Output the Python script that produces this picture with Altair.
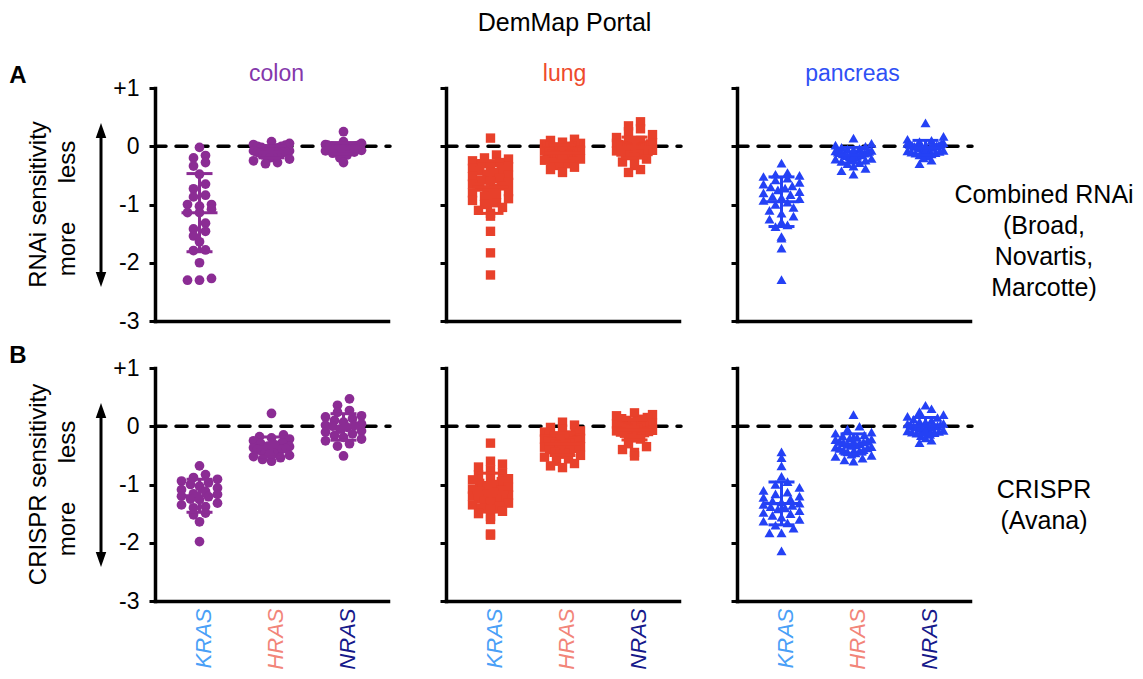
import math
import altair as alt
import pandas as pd

# ---------------- data ----------------
GENES = ["KRAS", "HRAS", "NRAS"]
TISSUES = ["colon", "lung", "pancreas"]
ROW_LETTERS = ["A", "B"]
ROW_YTITLES = ["RNAi sensitivity", "CRISPR sensitivity"]
ROW_LABELS = ["Combined RNAi\n(Broad,\nNovartis,\nMarcotte)", "CRISPR\n(Avana)"]
TICK_VALUES = [-3, -2, -1, 0, 1]

RNAI_COLON_KRAS = [-0.02, -0.16, -0.20, -0.28, -0.34, -0.48, -0.65, -0.73, -0.84, -0.87, -1.00, -1.00,
                   -1.03, -1.08, -1.14, -1.14, -1.32, -1.42, -1.46, -1.54, -1.64, -1.78, -1.79, -2.00,
                   -2.27, -2.30, -2.30]
RNAI_COLON_HRAS = [0.08, 0.05, 0.03, 0.02, 0.0, 0.0, -0.02, -0.03, -0.05, -0.05, -0.06, -0.08, -0.08,
                   -0.10, -0.10, -0.11, -0.12, -0.13, -0.15, -0.15, -0.17, -0.18, -0.20, -0.22, -0.25,
                   -0.28, -0.30]
RNAI_COLON_NRAS = [0.25, 0.08, 0.05, 0.03, 0.02, 0.02, 0.01, 0.0, 0.0, 0.0, -0.01, -0.01, -0.02, -0.02,
                   -0.03, -0.03, -0.04, -0.05, -0.05, -0.06, -0.07, -0.08, -0.10, -0.12, -0.15, -0.20,
                   -0.28]

RNAI_LUNG_KRAS = [0.14, -0.15, -0.20, -0.22, -0.25, -0.28, -0.30, -0.33, -0.35, -0.38, -0.40, -0.42,
                  -0.45, -0.48, -0.50, -0.52, -0.55, -0.58, -0.60, -0.62, -0.65, -0.68, -0.70, -0.72,
                  -0.75, -0.78, -0.80, -0.83, -0.86, -0.90, -0.93, -0.97, -1.00, -1.05, -1.10, -1.15,
                  -1.20, -1.46, -1.83, -2.21]
RNAI_LUNG_HRAS = [0.12, 0.10, 0.07, 0.05, 0.04, 0.03, 0.02, 0.01, 0.0, 0.0, -0.01, -0.02, -0.03, -0.04,
                  -0.05, -0.06, -0.07, -0.08, -0.09, -0.10, -0.10, -0.11, -0.12, -0.13, -0.14, -0.15,
                  -0.16, -0.17, -0.18, -0.19, -0.20, -0.22, -0.24, -0.26, -0.28, -0.30, -0.33, -0.36,
                  -0.40, -0.45]
RNAI_LUNG_NRAS = [0.42, 0.35, 0.30, 0.25, 0.20, 0.15, 0.10, 0.08, 0.06, 0.05, 0.04, 0.03, 0.02, 0.02,
                  0.01, 0.0, 0.0, 0.0, -0.01, -0.01, -0.02, -0.03, -0.04, -0.05, -0.05, -0.06, -0.07,
                  -0.08, -0.09, -0.10, -0.11, -0.12, -0.14, -0.16, -0.18, -0.22, -0.27, -0.33, -0.40,
                  -0.45]

RNAI_PANC_KRAS = [-0.29, -0.45, -0.48, -0.50, -0.52, -0.55, -0.58, -0.62, -0.65, -0.68, -0.70, -0.72,
                  -0.75, -0.78, -0.80, -0.83, -0.86, -0.88, -0.90, -0.93, -0.96, -1.00, -1.05, -1.10,
                  -1.15, -1.20, -1.25, -1.30, -1.35, -1.38, -1.55, -1.58, -1.75, -2.29]
RNAI_PANC_HRAS = [0.14, 0.05, 0.02, 0.0, -0.02, -0.04, -0.05, -0.06, -0.07, -0.08, -0.09, -0.10, -0.10,
                  -0.11, -0.12, -0.13, -0.14, -0.15, -0.15, -0.16, -0.17, -0.18, -0.19, -0.20, -0.21,
                  -0.22, -0.24, -0.26, -0.28, -0.30, -0.34, -0.38, -0.42, -0.48]
RNAI_PANC_NRAS = [0.40, 0.17, 0.12, 0.10, 0.08, 0.06, 0.05, 0.04, 0.03, 0.02, 0.02, 0.01, 0.0, 0.0, 0.0,
                  -0.01, -0.01, -0.02, -0.03, -0.04, -0.05, -0.06, -0.07, -0.08, -0.09, -0.10, -0.11,
                  -0.12, -0.13, -0.15, -0.17, -0.20, -0.24, -0.30]

CRISPR_COLON_KRAS = [-0.68, -0.83, -0.88, -0.91, -0.94, -0.97, -1.00, -1.03, -1.06, -1.09, -1.12, -1.16,
                     -1.17, -1.20, -1.21, -1.25, -1.26, -1.32, -1.35, -1.38, -1.40, -1.49, -1.52, -1.64,
                     -1.98]
CRISPR_COLON_HRAS = [0.22, -0.15, -0.18, -0.20, -0.22, -0.25, -0.28, -0.30, -0.32, -0.34, -0.35, -0.37,
                     -0.38, -0.40, -0.40, -0.42, -0.43, -0.45, -0.46, -0.48, -0.50, -0.52, -0.54, -0.57,
                     -0.60]
CRISPR_COLON_NRAS = [0.47, 0.36, 0.27, 0.24, 0.18, 0.16, 0.13, 0.10, 0.07, 0.04, 0.02, 0.01, 0.0, -0.02,
                     -0.05, -0.08, -0.10, -0.13, -0.16, -0.19, -0.22, -0.25, -0.30, -0.34, -0.51]

CRISPR_LUNG_KRAS = [-0.29, -0.60, -0.65, -0.70, -0.75, -0.80, -0.83, -0.86, -0.90, -0.92, -0.95, -0.98,
                    -1.00, -1.02, -1.05, -1.08, -1.10, -1.12, -1.14, -1.16, -1.18, -1.20, -1.22, -1.24,
                    -1.26, -1.28, -1.30, -1.32, -1.35, -1.38, -1.40, -1.43, -1.46, -1.50, -1.55, -1.60,
                    -1.85, -1.87]
CRISPR_LUNG_HRAS = [0.07, 0.02, -0.02, -0.05, -0.08, -0.10, -0.12, -0.14, -0.15, -0.17, -0.18, -0.20,
                    -0.21, -0.22, -0.24, -0.25, -0.26, -0.28, -0.29, -0.30, -0.31, -0.32, -0.34, -0.35,
                    -0.36, -0.38, -0.40, -0.42, -0.44, -0.46, -0.48, -0.50, -0.53, -0.56, -0.60, -0.64,
                    -0.68, -0.71]
CRISPR_LUNG_NRAS = [0.23, 0.20, 0.18, 0.15, 0.13, 0.12, 0.10, 0.08, 0.07, 0.05, 0.04, 0.03, 0.02, 0.01,
                    0.0, 0.0, -0.01, -0.02, -0.03, -0.04, -0.05, -0.06, -0.07, -0.08, -0.09, -0.10,
                    -0.11, -0.12, -0.14, -0.16, -0.18, -0.20, -0.22, -0.30, -0.35, -0.40, -0.45, -0.51]

CRISPR_PANC_KRAS = [-0.44, -0.54, -0.68, -0.86, -0.95, -1.00, -1.05, -1.10, -1.13, -1.16, -1.20, -1.22,
                    -1.25, -1.28, -1.30, -1.32, -1.34, -1.36, -1.38, -1.40, -1.42, -1.45, -1.48, -1.50,
                    -1.53, -1.56, -1.60, -1.63, -1.66, -1.70, -1.75, -1.83, -1.83, -2.14]
CRISPR_PANC_HRAS = [0.20, 0.0, -0.05, -0.10, -0.12, -0.15, -0.17, -0.19, -0.20, -0.22, -0.23, -0.25,
                    -0.26, -0.27, -0.28, -0.30, -0.31, -0.32, -0.33, -0.35, -0.36, -0.37, -0.38, -0.40,
                    -0.41, -0.42, -0.44, -0.46, -0.48, -0.50, -0.52, -0.55, -0.58, -0.60]
CRISPR_PANC_NRAS = [0.36, 0.30, 0.25, 0.20, 0.17, 0.15, 0.12, 0.10, 0.08, 0.07, 0.05, 0.04, 0.03, 0.02,
                    0.01, 0.0, 0.0, -0.01, -0.02, -0.03, -0.04, -0.05, -0.06, -0.07, -0.08, -0.09, -0.10,
                    -0.11, -0.12, -0.14, -0.16, -0.20, -0.24, -0.28]

SERIES = {
    (0, "colon"): [RNAI_COLON_KRAS, RNAI_COLON_HRAS, RNAI_COLON_NRAS],
    (0, "lung"): [RNAI_LUNG_KRAS, RNAI_LUNG_HRAS, RNAI_LUNG_NRAS],
    (0, "pancreas"): [RNAI_PANC_KRAS, RNAI_PANC_HRAS, RNAI_PANC_NRAS],
    (1, "colon"): [CRISPR_COLON_KRAS, CRISPR_COLON_HRAS, CRISPR_COLON_NRAS],
    (1, "lung"): [CRISPR_LUNG_KRAS, CRISPR_LUNG_HRAS, CRISPR_LUNG_NRAS],
    (1, "pancreas"): [CRISPR_PANC_KRAS, CRISPR_PANC_HRAS, CRISPR_PANC_NRAS],
}

# ---------------- styling ----------------
FONT = "Liberation Sans"
W, H = 233, 233
XDOM = [-0.618, 2.618]
YDOM = [-3, 1]
XPX = W / (XDOM[1] - XDOM[0])
YPX = H / (YDOM[1] - YDOM[0])

POINT_COLOR = {"colon": "#8b2c94", "lung": "#e8412b", "pancreas": "#2441f5"}
TITLE_COLOR = {"colon": "#8437ab", "lung": "#ee4a2c", "pancreas": "#2f50f5"}
TITLE_DX = {"colon": 5, "lung": 2, "pancreas": -1}
SHAPE = {"colon": "circle", "lung": "square", "pancreas": "triangle-up"}
SIZE = {"colon": 95, "lung": 88, "pancreas": 100}
GENE_COLOR = ["#4aa0f7", "#f28579", "#16198a"]


def swarm(vals, bin_px=8.0, step_px=12.0, max_px=36.0):
    """Horizontal beeswarm offsets (data units of x) derived from the values."""
    order = sorted(range(len(vals)), key=lambda i: vals[i])
    bins = {}
    for i in order:
        b = int(math.floor(vals[i] * YPX / bin_px + 0.5))
        bins.setdefault(b, []).append(i)
    off = [0.0] * len(vals)
    for members in bins.values():
        n = len(members)
        if n < 2:
            continue
        s = min(step_px, max_px / (n - 1))
        slots = sorted(range(n), key=lambda k: abs(k - (n - 1) / 2))
        for k, i in zip(slots, members):
            off[i] = (k - (n - 1) / 2) * s / XPX
    return off


def one(text):
    return pd.DataFrame({"t": [text]})


label_color = {
    "condition": [
        {"test": "datum.value == 0", "value": GENE_COLOR[0]},
        {"test": "datum.value == 1", "value": GENE_COLOR[1]},
    ],
    "value": GENE_COLOR[2],
}


def make_panel(row, col):
    tissue = TISSUES[col]
    series = SERIES[(row, tissue)]
    recs = []
    for gi, vals in enumerate(series):
        offs = swarm(vals)
        for v, o in zip(vals, offs):
            recs.append({"gene": GENES[gi], "gi": gi, "pos": gi + o, "v": v})
    df = pd.DataFrame(recs)

    xs = alt.Scale(domain=XDOM, nice=False, zero=False)
    ys = alt.Scale(domain=YDOM, nice=False, zero=False)
    xa = alt.Axis(title=None, values=[0, 1, 2], ticks=False, labels=(row == 1), grid=False,
                  labelExpr="datum.value == 0 ? 'KRAS' : (datum.value == 1 ? 'HRAS' : 'NRAS')",
                  labelAngle=270, labelFontStyle="italic", labelFontSize=22, labelFont=FONT,
                  labelColor=label_color, labelPadding=7, labelOffset=4, labelOverlap=False,
                  labelFlush=False, domainWidth=3.5, domainColor="black", domainCap="square",
                  domainOpacity=1)
    ya = alt.Axis(title=None, values=TICK_VALUES, labels=(col == 0), grid=False,
                  labelExpr="datum.value > 0 ? '+' + datum.value : (datum.value < 0 ? '-' + abs(datum.value) : '0')",
                  labelFontSize=23, labelFont=FONT, labelColor="black", labelPadding=10,
                  labelOverlap=False, labelFlush=False, tickSize=6, tickWidth=3, tickColor="black",
                  tickOpacity=1, domainWidth=3.5, domainColor="black", domainCap="square",
                  domainOpacity=1)

    def X(f):
        return alt.X(f, type="quantitative", scale=xs, axis=xa)

    def Y(f):
        return alt.Y(f, type="quantitative", scale=ys, axis=ya)

    c = POINT_COLOR[tissue]
    layers = []
    layers.append(
        alt.Chart(pd.DataFrame({"z": [0]})).mark_rule(
            color="black", strokeWidth=3.5, strokeDash=[11, 10], strokeCap="round"
        ).encode(y=Y("z"), x=alt.value(0), x2=alt.value(W + 2))
    )
    base = alt.Chart(df)
    layers.append(
        base.mark_point(filled=True, shape=SHAPE[tissue], size=SIZE[tissue], opacity=1, color=c,
                        strokeWidth=0).encode(x=X("pos"), y=Y("v"))
    )
    agg = base.transform_aggregate(m="mean(v)", s="stdev(v)", groupby=["gi"]).transform_calculate(
        lo="datum.m - datum.s", hi="datum.m + datum.s")
    layers.append(agg.mark_rule(color=c, strokeWidth=3).encode(x=X("gi"), y=Y("lo"), y2="hi:Q"))
    layers.append(agg.mark_tick(color=c, orient="horizontal", size=36, thickness=3, opacity=1)
                  .encode(x=X("gi"), y=Y("m")))
    for f in ["lo", "hi"]:
        layers.append(agg.mark_tick(color=c, orient="horizontal", size=26, thickness=3, opacity=1)
                      .encode(x=X("gi"), y=Y(f)))

    if row == 0:
        layers.append(alt.Chart(one(tissue)).mark_text(
            font=FONT, fontSize=23, color=TITLE_COLOR[tissue], align="center", baseline="alphabetic"
        ).encode(text="t:N", x=alt.value(W / 2 + TITLE_DX[tissue]), y=alt.value(-7)))
        if col == 1:
            layers.append(alt.Chart(one("DemMap Portal")).mark_text(
                font=FONT, fontSize=25, color="black", align="center", baseline="alphabetic"
            ).encode(text="t:N", x=alt.value(W / 2 + 2), y=alt.value(-57)))

    if col == 0:
        layers.append(alt.Chart(one(ROW_LETTERS[row])).mark_text(
            font=FONT, fontSize=24, fontWeight="bold", color="black", align="center",
            baseline="alphabetic").encode(text="t:N", x=alt.value(-137), y=alt.value(-5)))
        layers.append(alt.Chart(one(ROW_YTITLES[row])).mark_text(
            font=FONT, fontSize=24, color="black", angle=270, align="center", baseline="middle"
        ).encode(text="t:N", x=alt.value(-116), y=alt.value(H / 2)))
        layers.append(alt.Chart(one("less")).mark_text(
            font=FONT, fontSize=24, color="black", angle=270, align="center", baseline="middle"
        ).encode(text="t:N", x=alt.value(-87), y=alt.value(74)))
        layers.append(alt.Chart(one("more")).mark_text(
            font=FONT, fontSize=24, color="black", angle=270, align="center", baseline="middle"
        ).encode(text="t:N", x=alt.value(-87), y=alt.value(161)))
        layers.append(alt.Chart(one("arrow")).mark_rule(color="black", strokeWidth=3).encode(
            x=alt.value(-54), y=alt.value(45), y2=alt.value(189)))
        layers.append(alt.Chart(one("up")).mark_point(
            shape="M0,-1L0.7,1L-0.7,1Z", filled=True, size=225, color="black", opacity=1,
            strokeWidth=0).encode(x=alt.value(-54), y=alt.value(42.5)))
        layers.append(alt.Chart(one("down")).mark_point(
            shape="M0,1L0.7,-1L-0.7,-1Z", filled=True, size=225, color="black", opacity=1,
            strokeWidth=0).encode(x=alt.value(-54), y=alt.value(191.5)))

    if col == 2:
        first_line_y = 107 if row == 0 else 122
        layers.append(alt.Chart(one(ROW_LABELS[row])).mark_text(
            font=FONT, fontSize=25, color="black", align="center", baseline="middle",
            lineBreak="\n", lineHeight=31
        ).encode(text="t:N", x=alt.value(W + 74), y=alt.value(first_line_y)))

    return alt.layer(*layers).properties(width=W, height=H)


panels = [make_panel(r, c) for r in range(2) for c in range(3)]

chart = alt.concat(
    *panels, columns=3, bounds="flush", spacing={"row": 47, "column": 58}
).properties(
    padding={"left": 1, "top": 3, "right": 0, "bottom": 0}
).configure(
    font=FONT
).configure_view(
    strokeWidth=0
).configure_axis(
    grid=False, domainWidth=3.5, domainColor="black", tickColor="black", tickWidth=3
)

chart.save("out.html", embed_options={"renderer": "svg", "actions": False})
